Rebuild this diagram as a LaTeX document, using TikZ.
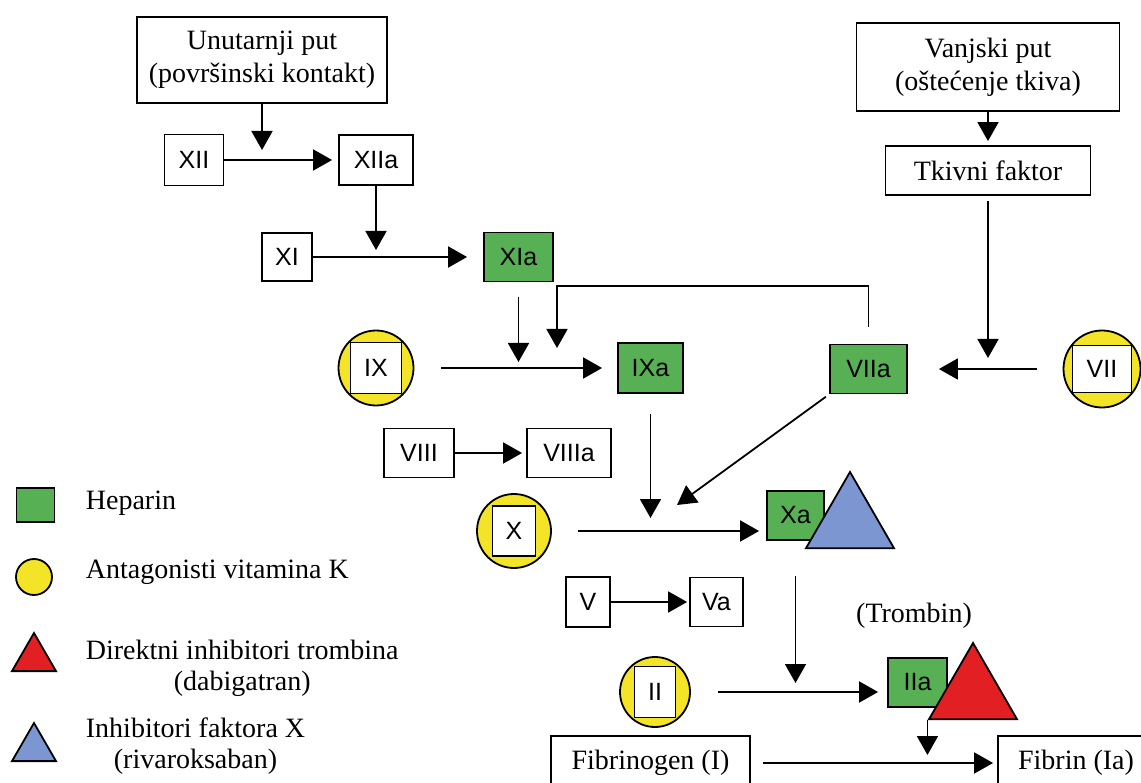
\documentclass[tikz,border=0pt]{standalone}
\usepackage{fontspec}
\setmainfont{Liberation Serif}
\setsansfont{Liberation Sans}
\usepackage{tikz}
\usetikzlibrary{arrows.meta,shapes.geometric}
\definecolor{hepgreen}{RGB}{88,176,84}
\definecolor{vkyellow}{RGB}{244,228,40}
\definecolor{dtired}{RGB}{226,32,36}
\definecolor{fxablue}{RGB}{124,150,210}
\newcommand{\clrhep}{hepgreen}
\newcommand{\clrvk}{vkyellow}
\newcommand{\clrdti}{dtired}
\newcommand{\clrfxa}{fxablue}

\begin{document}
\begin{tikzpicture}[x=1pt, y=-1pt, line width=1.8pt,
    >={Triangle[length=19pt,width=21pt]},
    box/.style={draw, inner sep=0pt, fill=white, font=\fontsize{25}{30}\selectfont\sffamily},
    pathbox/.style={draw, inner sep=0pt, align=center, font=\fontsize{28}{33}\selectfont},
    hepbox/.style={box, fill=\clrhep},
    vk/.style={draw, circle, fill=\clrvk, inner sep=0pt},
    tri/.style={draw, regular polygon, regular polygon sides=3, inner sep=0pt},
    legtxt/.style={anchor=west, inner sep=0pt, align=center, font=\fontsize{28}{31}\selectfont}]
    \useasboundingbox (0,0) rectangle (1141,783);
    \clip (0,0) rectangle (1141,783);

%pathways
    \node[pathbox, minimum width=250pt, minimum height=86pt] (unutarnji) at (262,60) {Unutarnji put\\(površinski kontakt)};
    \node[pathbox, minimum width=263pt, minimum height=88pt] (vanjski) at (988,67) {Vanjski put\\(oštećenje tkiva)};
    \node[pathbox, minimum width=205pt, minimum height=49pt] (tkivni) at (988,170.5) {Tkivni faktor};

%factors
    \node[box, minimum width=59pt, minimum height=51pt] (xii) at (194,160) {XII};
    \node[box, minimum width=74pt, minimum height=50pt] (xiia) at (376,160) {XIIa};
    \node[box, minimum width=50pt, minimum height=48pt] (xi) at (287,257) {XI};
    \node[hepbox, minimum width=69pt, minimum height=49pt] (xia) at (518.5,257) {XIa};
    \node[hepbox, minimum width=65pt, minimum height=50pt] (ixa) at (650.5,368) {IXa};
    \node[hepbox, minimum width=77pt, minimum height=49pt] (viia) at (868.5,369) {VIIa};
    \node[box, minimum width=70pt, minimum height=49pt] (viii) at (419,453) {VIII};
    \node[box, minimum width=84pt, minimum height=49pt] (viiia) at (569,453) {VIIIa};
    \node[hepbox, minimum width=57pt, minimum height=49pt] (xa) at (795.5,515.5) {Xa};
    \node[box, minimum width=44pt, minimum height=50pt] (v) at (588,602) {V};
    \node[box, minimum width=53pt, minimum height=49pt] (va) at (716.5,602) {Va};
    \node[hepbox, minimum width=59pt, minimum height=49pt] (iia) at (917.5,682.5) {IIa};

%vitamin K
    \foreach \nm/\lbl/\px/\py/\d/\w/\h in {ix/IX/376/368/75/51/51, vii/VII/1102/369/77/59/47, x/X/514/531/74/43/50, ii/II/655/692/70/41/51} {
        \node[vk, minimum size=\d pt] (c\nm) at (\px,\py) {};
        \node[box, minimum width=\w pt, minimum height=\h pt] (\nm) at (\px,\py) {\lbl};
    }

%inhibitors
    \node[tri, fill=\clrfxa, minimum size=101.6pt] (fxainh) at (850,522.8) {};
    \node[tri, fill=\clrdti, minimum size=101.6pt] (dti) at (973,693.8) {};
    \node[inner sep=0pt, font=\fontsize{28}{33}\selectfont] (trombin) at (914,616) {(Trombin)};

    \node[pathbox, minimum width=199pt, minimum height=54pt] (fibrinogen) at (650.5,763) {Fibrinogen (I)};
    \node[pathbox, minimum width=156pt, minimum height=54pt] (fibrin) at (1076,763) {Fibrin (Ia)};

%arrows
    \coordinate (xiiin) at (262,150);
    \coordinate (xiin) at (376,250);
    \coordinate (viiin) at (988,358);
    \coordinate (ixin) at (518.5,362);
    \coordinate (fbk) at (557,286);
    \coordinate (ixin2) at (557,348);
    \coordinate (xin) at (650.5,518);
    \coordinate (xin2) at (677,505);
    \coordinate (iiin) at (795.5,683);
    \coordinate (fibin) at (930,755);

    \draw[->] (unutarnji) -- (xiiin);
    \draw[->, shorten >=6pt] (xii) -- (xiia);
    \draw[->] (xiia) -- (xiin);
    \draw[->, shorten >=16pt] (xi) -- (xia);
    \draw[->, shorten <=15pt] (xia) -- (ixin);
    \draw[->, shorten <=17pt] (viia.north) |- (fbk) -- (ixin2);
    \draw[->, shorten <=27pt, shorten >=15pt] (cix) -- (ixa);
    \draw[->, shorten >=4pt] (vanjski) -- (tkivni);
    \draw[->, shorten <=5pt] (tkivni) -- (viiin);
    \draw[->, shorten <=26pt, shorten >=31pt] (cvii) -- (viia);
    \draw[->, shorten <=20pt] (ixa) -- (xin);
    \draw[->, shorten <=4pt] (viia.south west) -- (xin2);
    \draw[->, shorten >=4pt] (viii) -- (viiia);
    \draw[->, shorten <=26pt, shorten >=7pt] (cx.east) -- (cx.east -| xa.west);
    \draw[->, shorten <=35pt] (xa) -- (iiin);
    \draw[->, shorten >=2pt] (v) -- (va);
    \draw[->, shorten <=27pt, shorten >=9pt] (cii.east) -- (cii.east -| iia.west);
    \draw[->] (dti.corner 2) -- (dti.corner 2 |- fibin);
    \draw[->, shorten <=12pt, shorten >=4pt] (fibrinogen) -- (fibrin);

%legend
    \node[hepbox, minimum width=38pt, minimum height=34pt] (lhep) at (35.5,505) {};
    \node[vk, minimum size=36pt] (lvk) at (34,577) {};
    \node[tri, fill=\clrdti, minimum size=50.8pt] (ldti) at (34,658.4) {};
    \node[tri, fill=\clrfxa, minimum size=50.8pt] (lfxa) at (34,748.4) {};
    \node[legtxt] (thep) at (85,503) {Heparin};
    \node[legtxt] (tvk) at (85,572) {Antagonisti vitamina K};
    \node[legtxt] (tdti) at (85,668) {Direktni inhibitori trombina\\(dabigatran)};
    \node[legtxt] (tfxa) at (85,746.5) {Inhibitori faktora X\\(rivaroksaban)};

\end{tikzpicture}
\end{document}
